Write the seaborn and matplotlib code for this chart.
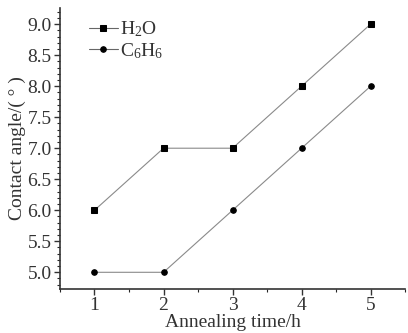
import matplotlib
matplotlib.use("Agg")
import matplotlib.pyplot as plt
import seaborn as sns
import pandas as pd
from matplotlib.ticker import MultipleLocator, FormatStrFormatter

# data
time_h = [1, 2, 3, 4, 5]
h2o = [6.0, 7.0, 7.0, 8.0, 9.0]
c6h6 = [5.0, 5.0, 6.0, 7.0, 8.0]
labels = [r"$\mathrm{H_2O}$", r"$\mathrm{C_6H_6}$"]

df = pd.DataFrame({
    "time": time_h * 2,
    "angle": h2o + c6h6,
    "series": [labels[0]] * 5 + [labels[1]] * 5,
})

sns.set_theme(style="ticks")
plt.rcParams["font.family"] = ["Liberation Serif", "DejaVu Serif"]
plt.rcParams["mathtext.fontset"] = "custom"
plt.rcParams["mathtext.rm"] = "Liberation Serif"

fig = plt.figure(figsize=(4.08, 3.33), dpi=100)
ax = fig.add_axes([0.147, 0.132, 0.846, 0.844])

sns.lineplot(data=df, x="time", y="angle", hue="series", style="series",
             markers=["s", "o"], dashes=False, palette=["#8a8a8a", "#8a8a8a"],
             linewidth=0.8, markersize=4, markerfacecolor="black",
             markeredgecolor="black", ax=ax)

ax.set_xlim(0.5, 5.5)
ax.set_ylim(4.73, 9.26)
ax.xaxis.set_major_locator(MultipleLocator(1))
ax.xaxis.set_minor_locator(MultipleLocator(0.5))
ax.yaxis.set_major_locator(MultipleLocator(0.5))
ax.yaxis.set_minor_locator(MultipleLocator(0.1))
ax.yaxis.set_major_formatter(FormatStrFormatter("%.1f"))
ax.tick_params(which="major", length=4, width=1, labelsize=14, colors="#333333", pad=2)
ax.tick_params(which="minor", length=2, width=0.8)
sns.despine(ax=ax)
for s in ["left", "bottom"]:
    ax.spines[s].set_linewidth(1.2)
    ax.spines[s].set_color("#333333")

ax.set_xlabel("Annealing time/h", fontsize=14, labelpad=0, color="#333333")
ax.set_ylabel("Contact angle/( ° )", fontsize=14, labelpad=1, color="#333333")

handles, lbls = ax.get_legend_handles_labels()
for h in handles:
    h.set_markerfacecolor("black")
    h.set_markeredgecolor("black")
    h.set_color("#666666")
ax.legend(handles, lbls, loc="upper left", bbox_to_anchor=(0.05, 1.0), frameon=False,
          fontsize=14, handlelength=1.5, handletextpad=0.1, labelspacing=0.1,
          borderaxespad=0.2, labelcolor="#333333")

fig.savefig("out.png", dpi=100)
